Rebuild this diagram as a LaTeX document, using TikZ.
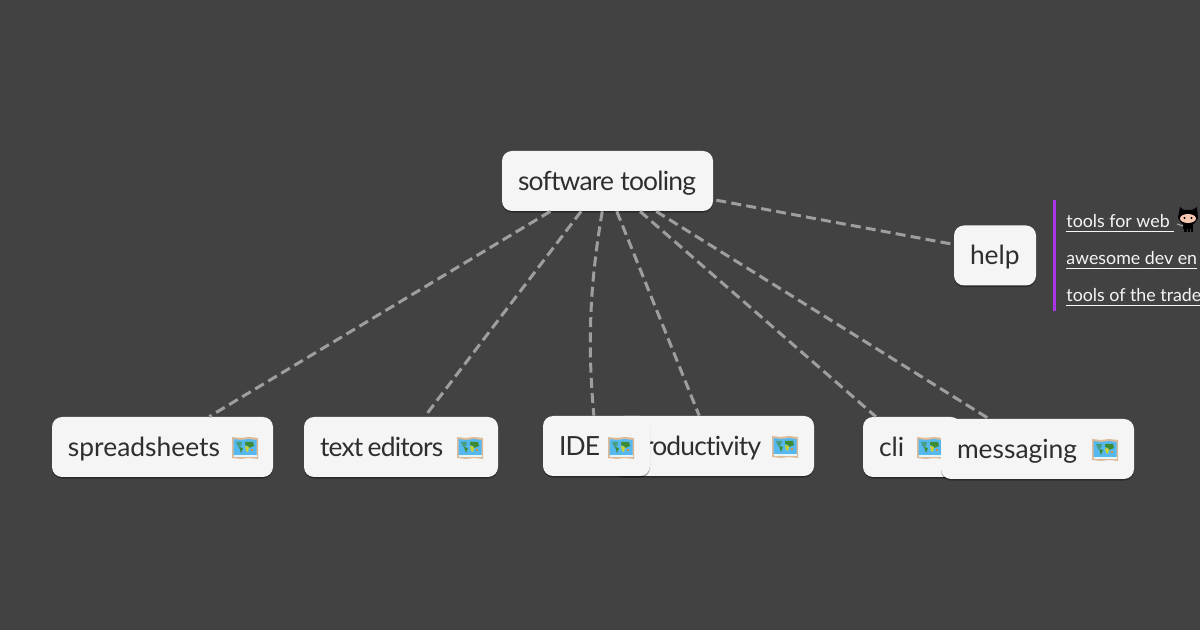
\documentclass[tikz,border=0pt]{standalone}
\usepackage{fontspec}
\setmainfont[Ligatures=NoCommon]{Lato}
\newfontfamily\tightfont[Ligatures=NoCommon,LetterSpace=-3]{Lato}
\hyphenpenalty=10000
\usetikzlibrary{shadows}
\definecolor{BackClr}{HTML}{424242}
\definecolor{TopicClr}{HTML}{F5F5F5}
\definecolor{InkClr}{HTML}{2E2E2E}
\definecolor{EdgeClr}{HTML}{9E9E9E}
\definecolor{BarClr}{HTML}{A835EA}
\definecolor{SeaClr}{HTML}{55B9F0}
\definecolor{LandClr}{HTML}{3F8A34}
\definecolor{EdgeMapClr}{HTML}{DDBB98}
\definecolor{FaceClr}{HTML}{F6C7B0}
\tikzset{
  topic/.style={rectangle,rounded corners=5pt,fill=TopicClr,text=InkClr,inner xsep=8pt,inner ysep=0pt,
    minimum height=30pt,text width=#1,align=left,text height=12pt,text depth=2.5pt,font=\fontsize{13.2}{15}\selectfont,
    drop shadow={shadow xshift=0pt,shadow yshift=-.8pt,opacity=.35,fill=black}},
  branch/.style={draw=EdgeClr,line width=1.5pt,dash pattern=on 5pt off 2.6pt},
  linkitem/.style={anchor=base west,inner sep=0pt,text=TopicClr,font=\fontsize{8.9}{10}\selectfont}
}
\newcommand{\DrawMap}[1]{
  \begin{scope}[shift={#1}]
    \fill[EdgeMapClr] (-13,-11) -- (-4,-10) -- (4,-11) -- (13,-10) -- (13,11) -- (4,10) -- (-4,11) -- (-13,10) -- cycle;
    \fill[SeaClr] (-11.5,-9) -- (-4,-8) -- (4,-9) -- (11.5,-8) -- (11.5,7) -- (-11.5,7) -- cycle;
    \fill[white!85!SeaClr] (-11.5,7) rectangle (11.5,9.5);
    \fill[LandClr!60!SeaClr] (-9,-6) -- (-3,-6) -- (-4,-2) -- (-7,-1) -- cycle;
    \fill[LandClr] (-6,-1) -- (-2,0) -- (-4,5) -- cycle;
    \fill[LandClr] (0,-6) -- (8,-6) -- (9,-2) -- (4,0) -- (3,-2) -- (0,-3) -- cycle;
    \fill[yellow!70!LandClr] (0,-2) -- (4,-1) -- (3,4) -- (1,3) -- cycle;
    \fill[orange] (7,2) circle (1.2);
  \end{scope}
}
\begin{document}
\begin{tikzpicture}[x=.5pt,y=-.5pt]
\fill[BackClr] (0,0) rectangle (1200,630);
\useasboundingbox (0,0) rectangle (1200,630);

\node[topic=89.5pt] (root) at (607.5,181) {\mbox{\tightfont software\hspace{.24em}tooling}};
\node[topic=94.5pt] (spreadsheets) at (162.5,447) {spreadsheets};
\DrawMap{(245,448)}
\node[topic=81pt] (texteditors) at (401,447) {\mbox{\tightfont text\hspace{.16em}editors}};
\DrawMap{(470,448)}
\node[topic=84pt] (productivity) at (714,446) {\tightfont productivity};
\DrawMap{(785,447)}
\node[topic=37.5pt] (ide) at (596.5,446) {\tightfont IDE};
\DrawMap{(621,448)}
\node[topic=33pt] (cli) at (912,447) {cli};
\DrawMap{(930,448)}
\node[topic=80.5pt] (messaging) at (1037.5,449) {messaging};
\DrawMap{(1105,450)}
\node[topic=25pt] (help) at (995,255.5) {help};

\draw[branch] (root.208.4) -- (spreadsheets.33.4);
\draw[branch] (root.229.6) -- (texteditors.52.5);
\draw[branch] (root) .. controls (587,300) and (589,360) .. (ide);
\draw[branch] (root.287.6) -- (productivity.116.6);
\draw[branch] (root.317.3) -- (cli.140.2);
\draw[branch] (root) -- (messaging);
\draw[branch,shorten <=1.5pt,shorten >=1.5pt] (root.350.85) -- (help.165.6);

\fill[BarClr] (1052.5,200) rectangle (1056,311);
\node[linkitem] (webtools) at (1066,228) {\underline{tools for web\ }};
\node[linkitem] (devenv) at (1066,265) {\underline{awesome dev en}};
\node[linkitem] (trade) at (1066,302) {\underline{tools of the trade}};

% octocat
\fill[black] (1180,207) -- (1184,210) -- (1192,210) -- (1197,207) -- (1198,218) -- (1194,224) -- (1182,224) -- (1178,218) -- cycle;
\fill[black] (1183,224) rectangle (1193,229);
\fill[black] (1184,228) rectangle (1186.5,232);
\fill[black] (1187.5,228) rectangle (1189.5,232);
\fill[black] (1190.5,228) rectangle (1193,232);
\fill[FaceClr] (1188,218.5) ellipse (8 and 4.5);
\fill[black] (1184.5,218) circle (1.2) (1191.5,218) circle (1.2);
\draw[EdgeClr,line width=.6pt] (1177,224) -- (1183,226);
\end{tikzpicture}
\end{document}
